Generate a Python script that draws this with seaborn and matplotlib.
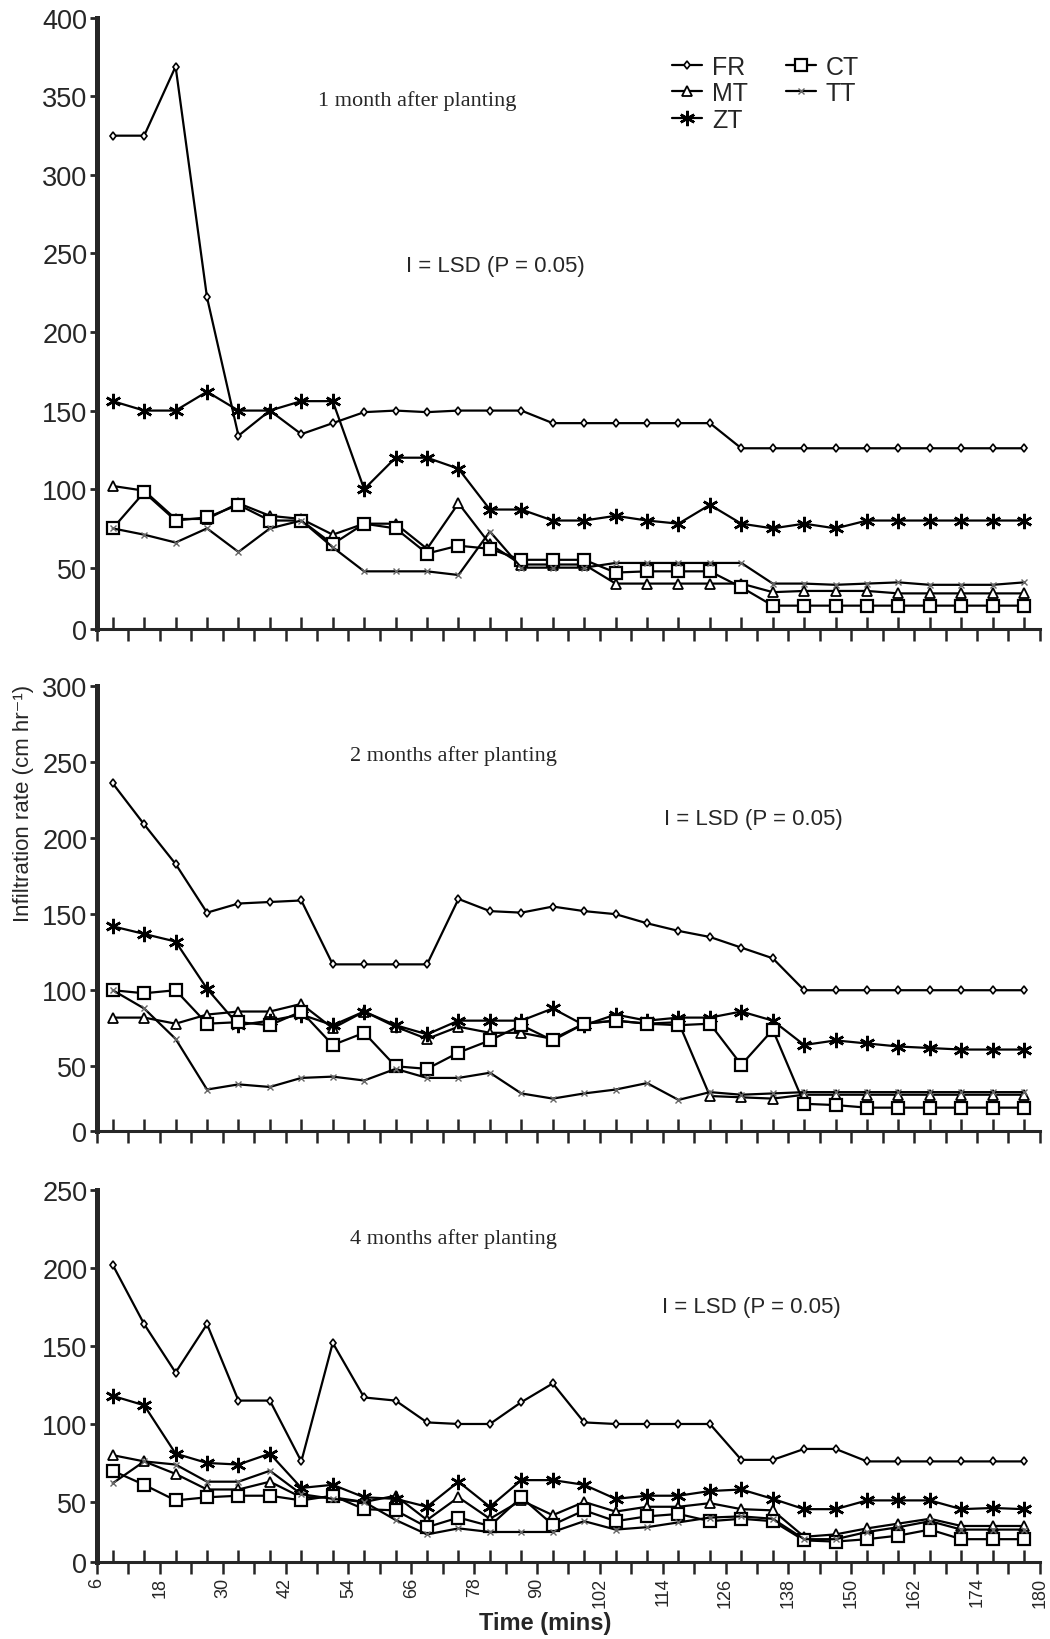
import matplotlib
matplotlib.use("Agg")
import numpy as np
import matplotlib.pyplot as plt
import seaborn as sns

# time after start of the test (mins) - one reading every 6 min
time_min = [6, 12, 18, 24, 30, 36, 42, 48, 54, 60, 66, 72, 78, 84, 90,
            96, 102, 108, 114, 120, 126, 132, 138, 144, 150, 156, 162, 168, 174, 180]
tick_labels = ["6", "18", "30", "42", "54", "66", "78", "90", "102", "114",
               "126", "138", "150", "162", "174", "180"]
treatments = ["FR", "MT", "ZT", "CT", "TT"]

# 1 month after planting
fr_1m = [325, 325, 369, 222, 134, 150, 135, 142, 149, 150, 149, 150, 150, 150, 142,
         142, 142, 142, 142, 142, 126, 126, 126, 126, 126, 126, 126, 126, 126, 126]
mt_1m = [102, 99, 81, 81, 91, 83, 81, 71, 78, 78, 62, 91, 65, 52, 52,
         52, 37, 37, 37, 37, 37, 30, 31, 31, 31, 29, 29, 29, 29, 29]
zt_1m = [156, 150, 150, 162, 150, 150, 156, 156, 100, 120, 120, 113, 87, 87, 80,
         80, 83, 80, 78, 90, 78, 75, 78, 75, 80, 80, 80, 80, 80, 80]
ct_1m = [75, 98, 80, 82, 90, 80, 80, 65, 78, 75, 59, 64, 62, 55, 55,
         55, 46, 47, 47, 47, 34, 19, 19, 19, 19, 19, 19, 19, 19, 19]
tt_1m = [75, 71, 66, 75, 60, 75, 80, 63, 47, 47, 47, 44, 73, 50, 50,
         50, 53, 53, 53, 53, 53, 37, 37, 36, 37, 38, 36, 36, 36, 38]

# 2 months after planting
fr_2m = [236, 209, 183, 151, 157, 158, 159, 117, 117, 117, 117, 160, 152, 151, 155,
         152, 150, 144, 139, 135, 128, 121, 100, 100, 100, 100, 100, 100, 100, 100]
mt_2m = [82, 82, 78, 84, 86, 86, 91, 75, 86, 76, 68, 76, 72, 72, 68,
         78, 80, 78, 79, 27, 26, 25, 28, 28, 28, 28, 28, 28, 28, 28]
zt_2m = [142, 137, 132, 101, 77, 80, 84, 77, 86, 77, 71, 80, 80, 80, 88,
         77, 84, 80, 82, 82, 86, 80, 64, 67, 65, 63, 62, 61, 61, 61]
ct_2m = [100, 98, 100, 78, 79, 77, 86, 64, 72, 50, 48, 59, 67, 77, 67,
         78, 80, 78, 77, 78, 51, 74, 21, 20, 18, 18, 18, 18, 18, 18]
tt_2m = [100, 88, 68, 32, 36, 34, 41, 42, 39, 48, 41, 41, 45, 29, 25,
         29, 32, 37, 24, 30, 28, 29, 30, 30, 30, 30, 30, 30, 30, 30]

# 4 months after planting
fr_4m = [202, 164, 133, 164, 115, 115, 76, 152, 117, 115, 101, 100, 100, 114, 126,
         101, 100, 100, 100, 100, 77, 77, 84, 84, 76, 76, 76, 76, 76, 76]
mt_4m = [80, 76, 68, 58, 58, 63, 53, 53, 50, 54, 35, 53, 36, 51, 39,
         50, 42, 46, 46, 49, 44, 43, 21, 23, 28, 32, 36, 30, 30, 30]
zt_4m = [118, 112, 81, 75, 74, 81, 59, 61, 53, 52, 46, 63, 46, 64, 64,
         61, 52, 54, 54, 57, 58, 52, 44, 44, 51, 51, 51, 44, 45, 44]
ct_4m = [70, 61, 51, 53, 54, 54, 51, 54, 44, 43, 29, 37, 30, 53, 31,
         43, 34, 38, 40, 34, 36, 34, 18, 17, 19, 22, 27, 19, 19, 19]
tt_4m = [62, 76, 74, 63, 63, 70, 55, 52, 50, 35, 23, 28, 25, 25, 25,
         34, 27, 29, 33, 37, 38, 36, 19, 19, 25, 29, 34, 27, 27, 27]

sns.set_style("ticks")
SANS = ["Liberation Sans Narrow", "Liberation Sans", "DejaVu Sans"]
SERIF = ["Liberation Serif", "DejaVu Serif"]
plt.rcParams["font.family"] = SANS

styles = {
    "FR": dict(marker="d", ms=4.5, mfc="white", mec="black", mew=1.2),
    "MT": dict(marker="^", ms=7, mfc="white", mec="black", mew=1.3),
    "ZT": dict(marker=(6, 2, 0), ms=11, mec="black", mew=1.8),
    "CT": dict(marker="s", ms=8, mfc="white", mec="black", mew=1.6),
    "TT": dict(marker="x", ms=5, mec="#666666", mew=1.0),
}


def squeezed_base(c):
    # the original axes draw the 0-50 band shorter than the other 50-steps
    def fwd(v):
        v = np.asarray(v, dtype=float)
        return np.where(v < 50, v * c, v - 50 + 50 * c)

    def inv(u):
        u = np.asarray(u, dtype=float)
        return np.where(u < 50 * c, u / c, u + 50 - 50 * c)
    return fwd, inv


panels = [
    ("1 month after planting", 400, 0.78, [0.0924, 0.6159, 0.898, 0.3726],
     (0.34, 0.866), (0.423, 0.594),
     {"FR": fr_1m, "MT": mt_1m, "ZT": zt_1m, "CT": ct_1m, "TT": tt_1m}),
    ("2 months after planting", 300, 0.85, [0.0924, 0.3098, 0.898, 0.2713],
     (0.378, 0.845), (0.696, 0.703),
     {"FR": fr_2m, "MT": mt_2m, "ZT": zt_2m, "CT": ct_2m, "TT": tt_2m}),
    ("4 months after planting", 250, 0.77, [0.0924, 0.04695, 0.898, 0.2268],
     (0.378, 0.871), (0.694, 0.688),
     {"FR": fr_4m, "MT": mt_4m, "ZT": zt_4m, "CT": ct_4m, "TT": tt_4m}),
]

# category boundaries sit half way between readings
bounds = [t - 3 for t in time_min] + [time_min[-1] + 3]
bound_labels = [""] * len(bounds)
bound_labels[::2] = tick_labels

fig = plt.figure(figsize=(10.5, 16.4), dpi=100)

for k, (title, ymax, band, rect, tpos, lpos, data) in enumerate(panels):
    ax = fig.add_axes(rect)
    for name in treatments:
        sns.lineplot(x=time_min, y=data[name], ax=ax, color="black", lw=1.6,
                     label=name, errorbar=None, **styles[name])

    ax.set_yscale("function", functions=squeezed_base(band))
    ax.set_xlim(bounds[0], bounds[-1])
    ax.set_ylim(0, ymax)
    ax.set_yticks(range(0, ymax + 1, 50))
    ax.set_yticklabels([str(v) for v in range(0, ymax + 1, 50)])
    ax.yaxis.set_minor_locator(plt.NullLocator())
    ax.set_xticks(bounds)
    ax.set_xticks(time_min, minor=True)
    if k == 2:
        ax.set_xticklabels(bound_labels, rotation=90, fontsize=13)
    else:
        ax.set_xticklabels([])
    ax.set_xlabel("")
    ax.set_ylabel("")

    sns.despine(ax=ax)
    ax.spines["left"].set_linewidth(3.6)
    ax.spines["bottom"].set_linewidth(2.2)
    ax.tick_params(axis="y", direction="out", length=5, width=2, labelsize=19.5, pad=2)
    ax.tick_params(axis="x", which="major", direction="out", length=8.5, width=1.8, pad=2)
    ax.tick_params(axis="x", which="minor", direction="in", length=8.5, width=1.8)

    ax.text(tpos[0], tpos[1], title, transform=ax.transAxes, ha="center",
            va="center", fontsize=16, family=SERIF)
    ax.text(lpos[0], lpos[1], "I = LSD (P = 0.05)", transform=ax.transAxes,
            ha="center", va="center", fontsize=16)

    if k == 0:
        handles, labels = ax.get_legend_handles_labels()
        ax.legend(handles, labels, loc="upper left", bbox_to_anchor=(0.61, 0.94),
                  ncol=2, frameon=False, fontsize=18, handlelength=1.2,
                  handletextpad=0.4, labelspacing=0.1, columnspacing=1.5,
                  borderpad=0, borderaxespad=0)
    else:
        ax.get_legend().remove()

fig.text(0.022, 0.51, "Infiltration rate (cm hr\u207b\u00b9)", rotation=90,
         ha="center", va="center", fontsize=16)
fig.text(0.519, 0.003, "Time (mins)", ha="center", va="bottom",
         fontsize=17, fontweight="bold")

fig.savefig("out.png", dpi=100)
